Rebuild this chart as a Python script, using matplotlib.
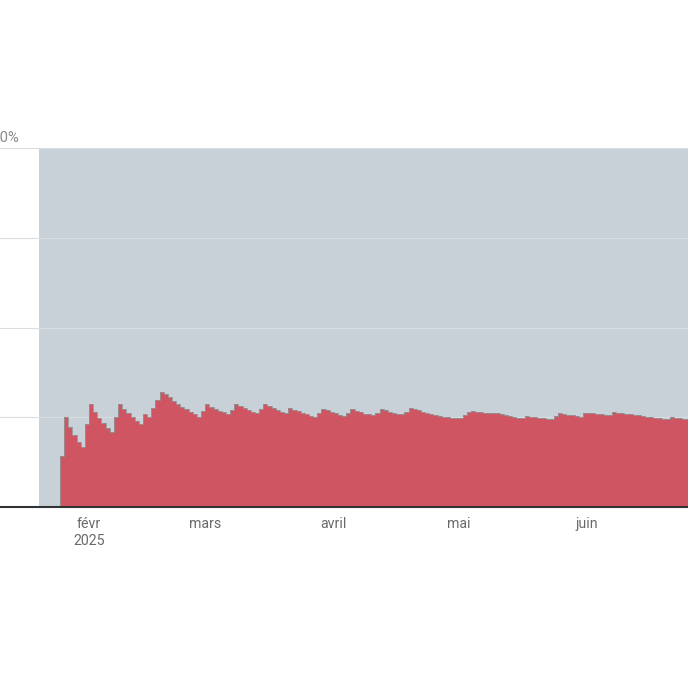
import numpy as np
import pandas as pd
import matplotlib
matplotlib.use('Agg')
import matplotlib.pyplot as plt
import matplotlib.dates as mdates

plt.rcParams['font.family'] = ['Roboto', 'DejaVu Sans']

# donnees, un point par jour a partir du 20 janvier 2025
debut = '2025-01-20'
part_rouge = [0, 0, 0, 0, 0,
              14.2, 25.0, 22.3, 20.1, 18.2, 16.6, 23.1, 28.6, 26.5, 24.7, 23.3, 21.9, 21.0,
              25.2, 28.6, 27.2, 26.1, 25.0, 24.0, 23.1, 25.9, 25.0, 27.5, 29.8, 32.1, 31.5,
              30.6, 29.6, 28.7, 27.9, 27.3, 26.5, 25.9, 25.2, 26.8, 28.6, 27.9, 27.3, 26.8,
              26.4, 25.8,
              27.0, 28.6, 28.1, 27.6, 27.1, 26.6, 26.1,
              27.3, 28.6, 28.1, 27.6, 27.1, 26.6, 26.1,
              27.5, 27.1, 26.7, 26.2, 25.8, 25.4, 25.0,
              26.3, 27.3, 26.9, 26.5, 26.1, 25.7, 25.3,
              26.2, 27.2, 26.8, 26.4, 26.0, 25.8, 25.6,
              26.3, 27.2, 26.9, 26.6, 26.3, 26.0, 25.8,
              26.5, 27.5, 27.2, 26.9, 26.6, 26.3, 26.0, 25.7, 25.4, 25.2, 25.0, 24.9, 24.8, 24.7,
              25.6, 26.4, 26.8, 26.6, 26.5, 26.3, 26.1,
              26.3, 26.1, 25.9, 25.7, 25.4, 25.2, 24.9, 24.7,
              25.3, 25.1, 25.0, 24.9, 24.7, 24.6, 24.4,
              25.3, 26.1, 25.9, 25.7, 25.5, 25.4, 25.2,
              26.3, 26.2, 26.1, 26.0, 25.9, 25.7, 25.6,
              26.4, 26.3, 26.1, 26.0, 25.8, 25.7, 25.5, 25.4, 25.2, 25.1, 24.9, 24.8, 24.6, 24.5,
              25.0, 24.9, 24.7, 24.6, 24.4, 24.3]

mois_dates = ['2025-02-01', '2025-03-01', '2025-04-01', '2025-05-01', '2025-06-01']
mois_labels = ['févr\n2025', 'mars', 'avril', 'mai', 'juin']
y_ticks = [0, 25, 50, 75, 100]
y_labels = ['0', '25', '50', '75', '100%']

rouge = np.array(part_rouge)
dates = pd.date_range(debut, periods=len(rouge) + 1)
x = mdates.date2num(dates)
y_step = np.append(rouge, rouge[-1])
reste = np.full(len(y_step), 100.0)

fig = plt.figure(figsize=(6.88, 6.88), dpi=100)
W = 688.0
ax = fig.add_axes([0, (688 - 507) / 688, 1, (507 - 148) / 688])

px_jour = 4.15
fev = mdates.date2num(pd.Timestamp('2025-02-01'))
ax.set_xlim(fev - 89 / px_jour, fev + (W - 89) / px_jour)
ax.set_ylim(0, 100)

# zone grise (reste) puis zone rouge
ax.fill_between(x, 0, reste, step='post', color='#c8d0d8', lw=0, zorder=1)
for t in y_ticks[1:]:
    ax.axhline(t, color='#d9dde1', lw=0.8, zorder=1.5, clip_on=False)
ax.fill_between(x, 0, y_step, step='post', color='#d05563', lw=0, zorder=2)
ax.step(x, y_step, where='post', color='#949494', lw=0.6, zorder=3)
ax.axhline(0, color='#333333', lw=1.5, zorder=4, clip_on=False)

for s in ax.spines.values():
    s.set_visible(False)
ax.set_yticks([])
ax.set_xticks(mdates.date2num(pd.to_datetime(mois_dates)))
ax.set_xticklabels(mois_labels, fontsize=10.2, color='#6a6a6a', linespacing=1.2)
ax.tick_params(axis='x', length=0, pad=7.5)

for t, lab in zip(y_ticks, y_labels):
    ax.annotate(lab, xy=(-16.5 / W, t), xycoords=ax.get_yaxis_transform(),
                xytext=(0, 7.5), textcoords='offset points',
                ha='left', va='center', fontsize=10.6, color='#8a8a8a',
                annotation_clip=False)

fig.savefig('out.png', dpi=100)
